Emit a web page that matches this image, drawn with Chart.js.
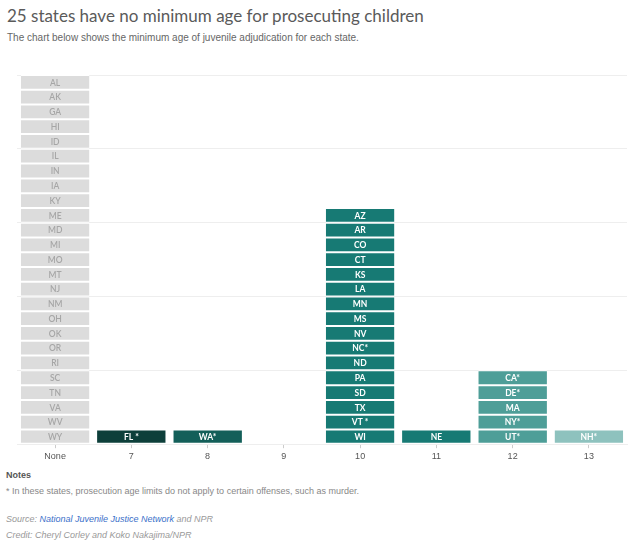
<!DOCTYPE html>
<html>
<head>
<meta charset="utf-8">
<script src="https://cdn.jsdelivr.net/npm/chart.js@4"></script>
<style>
  body { margin: 0; background: #fff; width: 641px; height: 545px; position: relative; overflow: hidden; }
  .title { position: absolute; left: 7px; top: 5px; font-family: Lato, sans-serif; font-size: 17px; color: #5a5a5a; }
  .sub { position: absolute; left: 7px; top: 32px; font-family: "Liberation Sans", Arial, sans-serif; font-size: 10px; color: #666; }
  #wrap { position: absolute; left: 0; top: 60px; width: 641px; height: 405px; }
  .notes { position: absolute; left: 6px; font-family: "Liberation Sans", Arial, sans-serif; font-size: 9px; color: #888; }
  .notes b { color: #555; }
  .src { font-style: italic; color: #999; }
  .src a { color: #3b6fc9; text-decoration: none; }
</style>
</head>
<body>
<div class="title">25 states have no minimum age for prosecuting children</div>
<div class="sub">The chart below shows the minimum age of juvenile adjudication for each state.</div>
<div id="wrap"><canvas id="unitChart"></canvas></div>
<div class="notes" style="top:470px"><b>Notes</b></div>
<div class="notes" style="top:486px">* In these states, prosecution age limits do not apply to certain offenses, such as murder.</div>
<div class="notes src" style="top:514px">Source: <a href="#">National Juvenile Justice Network</a> and NPR</div>
<div class="notes src" style="top:530px">Credit: Cheryl Corley and Koko Nakajima/NPR</div>
<script>
// minimum age categories and states in each (listed top to bottom as in the chart)
var ages = ['None', '7', '8', '9', '10', '11', '12', '13'];
var statesNone = ['AL', 'AK', 'GA', 'HI', 'ID', 'IL', 'IN', 'IA', 'KY', 'ME', 'MD', 'MI', 'MO', 'MT', 'NJ', 'NM', 'OH', 'OK', 'OR', 'RI', 'SC', 'TN', 'VA', 'WV', 'WY'];
var states7 = ['FL *'];
var states8 = ['WA*'];
var states9 = [];
var states10 = ['AZ', 'AR', 'CO', 'CT', 'KS', 'LA', 'MN', 'MS', 'NV', 'NC*', 'ND', 'PA', 'SD', 'TX', 'VT *', 'WI'];
var states11 = ['NE'];
var states12 = ['CA*', 'DE*', 'MA', 'NY*', 'UT*'];
var states13 = ['NH*'];
var colColors = ['#dcdcdc', '#0d3f3a', '#135f59', '#177a74', '#177a74', '#177a74', '#4e9e98', '#8ec2be'];
var colText = ['#a6a6a6', '#fff', '#fff', '#fff', '#fff', '#fff', '#fff', '#fff'];

var columns = [statesNone, states7, states8, states9, states10, states11, states12, states13];
// bottom-up order for stacking
var stacks = columns.map(function(c) { return c.slice().reverse(); });
var maxLevel = Math.max.apply(null, stacks.map(function(s) { return s.length; }));

var datasets = [];
for (var lvl = 0; lvl < maxLevel; lvl++) {
  datasets.push({
    label: 'level ' + lvl,
    data: stacks.map(function(s) { return s.length > lvl ? 1 : null; }),
    names: stacks.map(function(s) { return s[lvl] || ''; }),
    backgroundColor: colColors,
    borderColor: '#fff',
    borderWidth: { top: 1, bottom: 1, left: 0, right: 0 },
    borderSkipped: false,
    barPercentage: 0.9,
    categoryPercentage: 1.0
  });
}

var stateLabels = {
  id: 'stateLabels',
  afterDatasetsDraw: function(chart) {
    var ctx = chart.ctx;
    ctx.save();
    ctx.textAlign = 'center';
    ctx.textBaseline = 'middle';
    chart.data.datasets.forEach(function(ds, i) {
      chart.getDatasetMeta(i).data.forEach(function(bar, j) {
        if (!ds.names[j]) return;
        var p = bar.getProps(['x', 'y', 'base'], true);
        ctx.font = (j === 0 ? '600 ' : 'bold ') + '8.5px Lato, sans-serif';
        ctx.fillStyle = colText[j];
        ctx.fillText(ds.names[j], p.x, (p.y + p.base) / 2 + 0.5);
      });
    });
    ctx.restore();
  }
};

var ctx = document.getElementById('unitChart').getContext('2d');
var myChart = new Chart(ctx, {
  type: 'bar',
  data: { labels: ages, datasets: datasets },
  options: {
    responsive: true,
    maintainAspectRatio: false,
    animation: false,
    layout: { padding: { left: 17, right: 14, top: 15, bottom: 0 } },
    plugins: { legend: { display: false }, tooltip: { enabled: false } },
    scales: {
      x: {
        stacked: true,
        grid: { display: true, drawOnChartArea: false, offset: false, color: '#ccc', tickLength: 4 },
        border: { display: true, color: '#eee' },
        ticks: { color: '#555', font: { size: 9, family: 'Liberation Sans, Arial, sans-serif' }, padding: 3 }
      },
      y: {
        stacked: true,
        min: 0,
        max: 25,
        ticks: { display: false, stepSize: 5 },
        grid: { color: '#eeeeee', drawTicks: false },
        border: { display: false }
      }
    }
  },
  plugins: [stateLabels]
});
</script>
</body>
</html>
